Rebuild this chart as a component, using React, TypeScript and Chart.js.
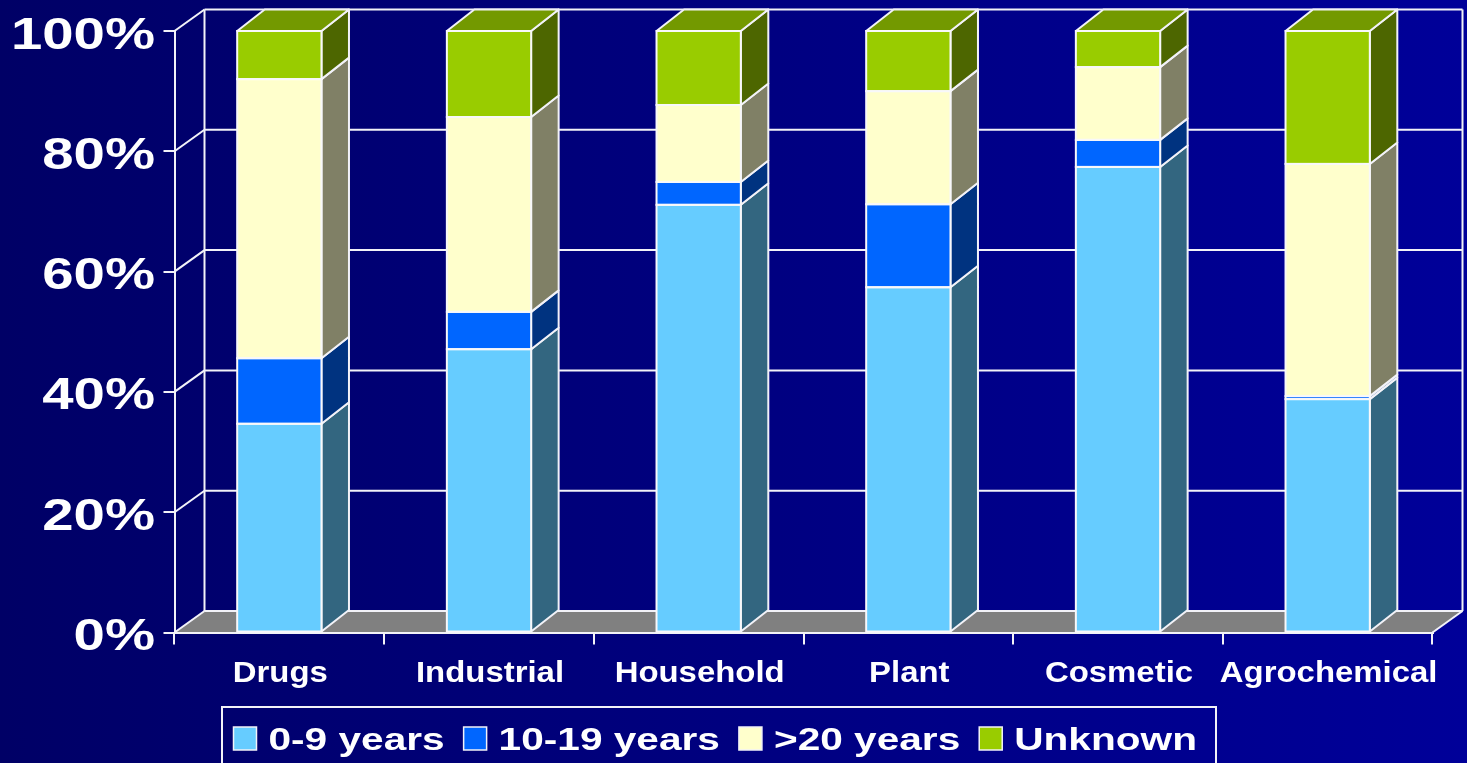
import React, { useEffect, useRef } from "react";
import { Chart, registerables } from "chart.js";

Chart.register(...registerables);

const categories = ["Drugs", "Industrial", "Household", "Plant", "Cosmetic", "Agrochemical"];
const seriesNames = ["0-9 years", "10-19 years", ">20 years", "Unknown"];
const young = [34.7, 47.1, 71.1, 57.4, 77.4, 38.8];
const middle = [10.9, 6.2, 3.8, 13.8, 4.5, 0.5];
const older = [46.4, 32.4, 12.8, 18.8, 12.1, 38.6];
const unknown = [8.0, 14.3, 12.3, 10.0, 6.0, 22.1];
const yTicks = [0, 20, 40, 60, 80, 100];

const frontColors = ["#66CCFF", "#0066FF", "#FFFFCC", "#99CC00"];
const sideColors = ["#336680", "#003380", "#808066", "#4D6600"];
const topColors = ["#4D99BF", "#004CBF", "#BFBF99", "#739900"];

const WALL_DX = 30;
const WALL_DY = 21.5;
const BAR_DX = 27.5;
const FONT = '"Liberation Sans", Arial, sans-serif';

function stretched(ctx: CanvasRenderingContext2D, text: string, x: number, y: number, sx: number, align: CanvasTextAlign) {
  ctx.save();
  ctx.translate(x, y);
  ctx.scale(sx, 1);
  ctx.textAlign = align;
  ctx.textBaseline = "alphabetic";
  ctx.fillText(text, 0, 0);
  ctx.restore();
}

function poly(ctx: CanvasRenderingContext2D, pts: number[][], fill: string | null, stroke: string | null, lw = 2) {
  ctx.beginPath();
  pts.forEach((p, i) => (i ? ctx.lineTo(p[0], p[1]) : ctx.moveTo(p[0], p[1])));
  ctx.closePath();
  if (fill) {
    ctx.fillStyle = fill;
    ctx.fill();
  }
  if (stroke) {
    ctx.strokeStyle = stroke;
    ctx.lineWidth = lw;
    ctx.lineJoin = "round";
    ctx.stroke();
  }
}

function line(ctx: CanvasRenderingContext2D, x1: number, y1: number, x2: number, y2: number, lw = 2, color = "#F2F2F8") {
  ctx.beginPath();
  ctx.moveTo(x1, y1);
  ctx.lineTo(x2, y2);
  ctx.strokeStyle = color;
  ctx.lineWidth = lw;
  ctx.stroke();
}

const plugin3d = {
  id: "plugin3d",
  beforeDraw(chart: any) {
    const { ctx, chartArea, scales, width, height } = chart;
    const { left, right, bottom } = chartArea;
    ctx.save();
    const g = ctx.createLinearGradient(0, 0, width, 0);
    g.addColorStop(0, "#000066");
    g.addColorStop(1, "#000099");
    ctx.fillStyle = g;
    ctx.fillRect(0, 0, width, height);

    const y = scales.y;
    const backTop = y.getPixelForValue(100) - WALL_DY;
    const backBottom = bottom - WALL_DY;
    // floor
    poly(ctx, [[left, bottom], [right, bottom], [right + WALL_DX, backBottom], [left + WALL_DX, backBottom]], "#808080", null);
    // back wall gridlines and walls
    yTicks.forEach((v) => {
      const p = y.getPixelForValue(v);
      line(ctx, left, p, left + WALL_DX, p - WALL_DY);
      line(ctx, left + WALL_DX, p - WALL_DY, right + WALL_DX, p - WALL_DY, 2);
    });
    line(ctx, left + WALL_DX, backTop, left + WALL_DX, backBottom);
    line(ctx, right + WALL_DX, backTop, right + WALL_DX, backBottom);
    line(ctx, right, bottom, right + WALL_DX, backBottom);
    ctx.restore();
  },
  beforeDatasetsDraw(chart: any) {
    const { ctx } = chart;
    ctx.save();
    const count = chart.data.datasets.length;
    categories.forEach((_, c) => {
      for (let d = 0; d < count; d++) {
        const bar = chart.getDatasetMeta(d).data[c];
        const r = bar.x + bar.width / 2;
        const l = bar.x - bar.width / 2;
        poly(ctx, [[r, bar.base], [r + BAR_DX, bar.base - WALL_DY], [r + BAR_DX, bar.y - WALL_DY], [r, bar.y]], sideColors[d], "#F2F2F8", 2);
        if (d === count - 1) {
          poly(ctx, [[l, bar.y], [r, bar.y], [r + BAR_DX, bar.y - WALL_DY], [l + BAR_DX, bar.y - WALL_DY]], topColors[d], "#F2F2F8", 2);
        }
      }
    });
    ctx.restore();
  },
  afterDatasetsDraw(chart: any) {
    const { ctx } = chart;
    ctx.save();
    chart.data.datasets.forEach((_: any, d: number) => {
      chart.getDatasetMeta(d).data.forEach((bar: any) => {
        const l = bar.x - bar.width / 2;
        ctx.strokeStyle = "#F8F8FA";
        ctx.lineWidth = 2;
        ctx.strokeRect(l, bar.y, bar.width, bar.base - bar.y);
      });
    });
    ctx.restore();
  },
  afterDraw(chart: any) {
    const { ctx, scales } = chart;
    ctx.save();
    ctx.fillStyle = "#FFFFFF";
    // value axis labels
    ctx.font = `bold 44px ${FONT}`;
    yTicks.forEach((v) => {
      stretched(ctx, `${v}%`, 155, scales.y.getPixelForValue(v) + 17.5, 1.28, "right");
    });
    // category labels
    ctx.font = `bold 29px ${FONT}`;
    categories.forEach((c, i) => {
      stretched(ctx, c, scales.x.getPixelForValue(i) + 1, 682, 1.135, "center");
    });
    // legend
    const boxLeft = 222;
    const boxTop = 707;
    ctx.strokeStyle = "#F2F2F8";
    ctx.lineWidth = 2;
    ctx.strokeRect(boxLeft, boxTop, 994, 60);
    ctx.font = `bold 31px ${FONT}`;
    let x = 233.5;
    const sx = 1.31;
    seriesNames.forEach((name, i) => {
      ctx.fillStyle = frontColors[i];
      ctx.fillRect(x, 727, 23, 23);
      ctx.strokeStyle = "#F2F2F8";
      ctx.lineWidth = 1.5;
      ctx.strokeRect(x, 727, 23, 23);
      ctx.fillStyle = "#FFFFFF";
      const tx = x + 35;
      stretched(ctx, name, tx, 750, sx, "left");
      x = tx + ctx.measureText(name).width * sx + 19;
    });
    ctx.restore();
  },
};

export default function App() {
  const ref = useRef<HTMLCanvasElement>(null);
  useEffect(() => {
    const values = [young, middle, older, unknown];
    const chart = new Chart(ref.current as HTMLCanvasElement, {
      type: "bar",
      data: {
        labels: categories,
        datasets: seriesNames.map((label, i) => ({
          label,
          data: values[i],
          backgroundColor: frontColors[i],
          borderWidth: 0,
          clip: false,
          barPercentage: 0.402,
          categoryPercentage: 1,
        })),
      },
      options: {
        responsive: false,
        animation: false,
        layout: { padding: { top: 31, right: 34.5, left: 0, bottom: 0 } },
        plugins: { legend: { display: false }, tooltip: { enabled: false } },
        scales: {
          x: {
            stacked: true,
            afterFit: (s: any) => {
              s.height = 130.5;
            },
            grid: { offset: true, drawOnChartArea: false, drawTicks: true, tickLength: 12, color: "#F2F2F8", lineWidth: 2 },
            border: { display: true, color: "#F2F2F8", width: 2 },
            ticks: { display: false },
          },
          y: {
            stacked: true,
            min: 0,
            max: 100,
            afterFit: (s: any) => {
              s.width = 174.5;
            },
            grid: { drawOnChartArea: false, drawTicks: true, tickLength: 11, color: "#F2F2F8", lineWidth: 2 },
            border: { display: true, color: "#F2F2F8", width: 2 },
            ticks: { display: false, stepSize: 20 },
          },
        },
      } as any,
      plugins: [plugin3d],
    });
    return () => chart.destroy();
  }, []);
  return (
    <div style={{ position: "fixed", left: 0, top: 0, width: 1467, height: 763, overflow: "hidden" }}>
      <canvas ref={ref} width={1467} height={763} style={{ display: "block" }} />
    </div>
  );
}
